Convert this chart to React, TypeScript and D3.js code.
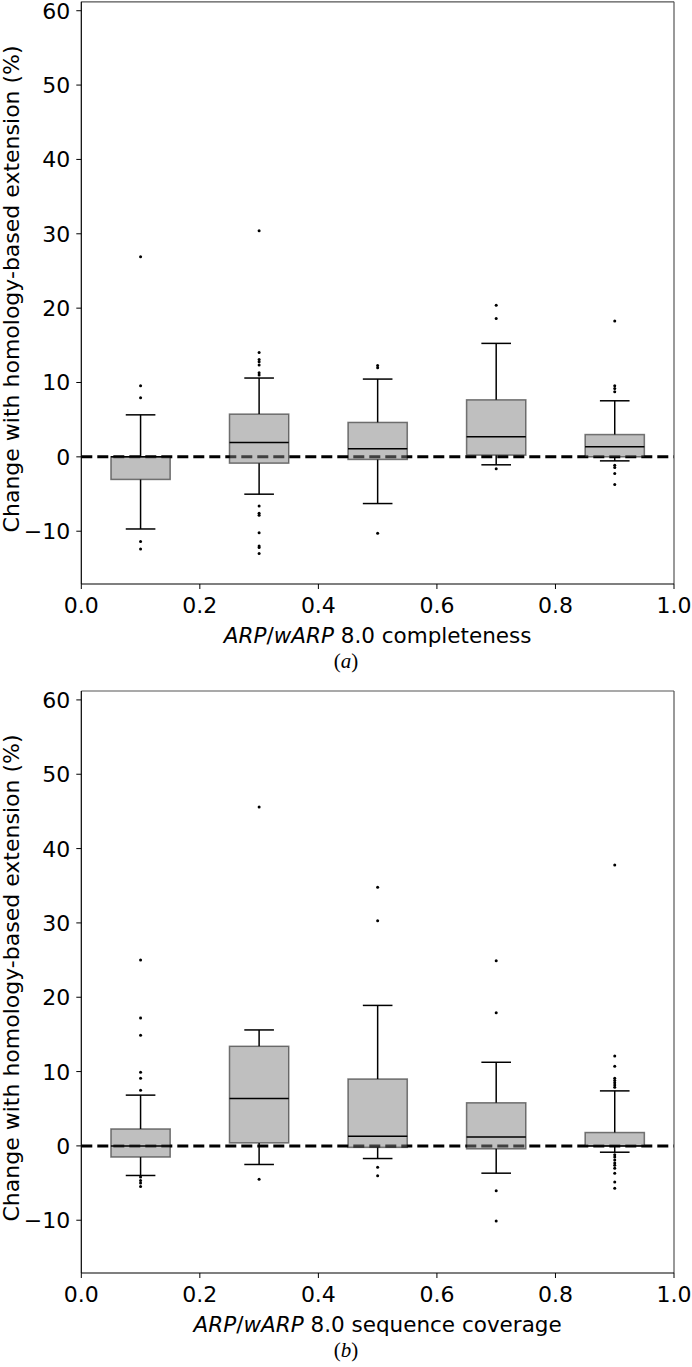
import React from "react";
import * as d3 from "d3";

// ---------- data ----------
const positions = [0.1, 0.3, 0.5, 0.7, 0.9];
const xTicks = [0, 0.2, 0.4, 0.6, 0.8, 1.0];
const yTicks = [-10, 0, 10, 20, 30, 40, 50, 60];

// panel (a): completeness
const aQ1 = [-3.04, -0.85, -0.35, 0.23, 0.0];
const aMedian = [0.0, 1.93, 1.08, 2.7, 1.35];
const aQ3 = [0.0, 5.75, 4.63, 7.67, 3.0];
const aWhiskerLow = [-9.7, -5.02, -6.28, -1.07, -0.54];
const aWhiskerHigh = [5.65, 10.6, 10.46, 15.26, 7.54];
const aOutliers = [
  [26.9, 9.56, 7.94, -11.4, -12.4],
  [30.4, 14.05, 13.1, 12.8, 12.35, 11.3, 11.0, -6.6, -7.6, -7.85, -10.2, -12.0, -12.2, -13.0],
  [12.3, 12.0, -10.27],
  [20.4, 18.6, -1.6],
  [18.26, 9.56, 9.2, 8.75, -1.12, -1.43, -2.24, -3.72],
];

// panel (b): sequence coverage
const bQ1 = [-1.5, 0.4, -0.2, -0.4, 0.0];
const bMedian = [0.0, 6.38, 1.3, 1.2, 0.0];
const bQ3 = [2.28, 13.4, 9.0, 5.8, 1.8];
const bWhiskerLow = [-3.98, -2.5, -1.7, -3.67, -0.85];
const bWhiskerHigh = [6.83, 15.6, 18.9, 11.25, 7.4];
const bOutliers = [
  [25.0, 17.2, 14.9, 9.9, 9.1, 7.5, -4.2, -4.65, -5.0, -5.45],
  [45.6, -4.5],
  [34.8, 30.3, -2.86, -4.03],
  [24.9, 17.9, -6.04, -10.1],
  [37.8, 12.1, 10.7, 9.1, 8.8, 8.5, 8.2, 7.9, -1.2, -1.5, -1.9, -2.3, -2.6, -3.0, -3.67, -4.87, -5.7],
];

const yLabel = "Change with homology-based extension (%)";
const xLabelA = " 8.0 completeness";
const xLabelB = " 8.0 sequence coverage";

const FONT = "DejaVu Sans, sans-serif";

type PanelProps = {
  top: number;
  bottom: number;
  q1: number[];
  med: number[];
  q3: number[];
  wlo: number[];
  whi: number[];
  outl: number[][];
  xLabelRest: string;
  caption: string;
};

const LEFT = 81.3;
const RIGHT = 674;
const BOX_W = 0.1;

function Panel({ top, bottom, q1, med, q3, wlo, whi, outl, xLabelRest, caption }: PanelProps) {
  const x = d3.scaleLinear().domain([0, 1]).range([LEFT, RIGHT]);
  const y = d3.scaleLinear().domain([-17.1, 61.2]).range([bottom, top]);
  const midY = (top + bottom) / 2 - 4;
  return (
    <g>
      {/* zero dashed line */}
      <line
        x1={x(0)}
        x2={x(1)}
        y1={y(0)}
        y2={y(0)}
        stroke="#000"
        strokeWidth={3}
        strokeDasharray="11,5"
      />
      {positions.map((p, i) => {
        const bx0 = x(p - BOX_W / 2);
        const bx1 = x(p + BOX_W / 2);
        const cx0 = x(p - BOX_W / 4);
        const cx1 = x(p + BOX_W / 4);
        const cx = x(p);
        return (
          <g key={i}>
            {/* whiskers */}
            <line x1={cx} x2={cx} y1={y(q3[i])} y2={y(whi[i])} stroke="#000" strokeWidth={1.5} />
            <line x1={cx} x2={cx} y1={y(q1[i])} y2={y(wlo[i])} stroke="#000" strokeWidth={1.5} />
            <line x1={cx0} x2={cx1} y1={y(whi[i])} y2={y(whi[i])} stroke="#000" strokeWidth={1.5} />
            <line x1={cx0} x2={cx1} y1={y(wlo[i])} y2={y(wlo[i])} stroke="#000" strokeWidth={1.5} />
            {/* box */}
            <rect
              x={bx0}
              y={y(q3[i])}
              width={bx1 - bx0}
              height={Math.max(0, y(q1[i]) - y(q3[i]))}
              fill="#808080"
              fillOpacity={0.5}
              stroke="#000"
              strokeOpacity={0.5}
              strokeWidth={1.5}
            />
            {/* median */}
            <line x1={bx0} x2={bx1} y1={y(med[i])} y2={y(med[i])} stroke="#000" strokeWidth={1.5} />
            {/* outliers */}
            {outl[i].map((v, j) => (
              <circle key={j} cx={cx} cy={y(v)} r={1.5} fill="#000" />
            ))}
          </g>
        );
      })}
      {/* frame */}
      <line x1={LEFT} x2={RIGHT} y1={top} y2={top} stroke="#555" strokeWidth={1.2} />
      <line x1={RIGHT} x2={RIGHT} y1={top} y2={bottom} stroke="#555" strokeWidth={1.2} />
      <line x1={LEFT} x2={LEFT} y1={top} y2={bottom} stroke="#000" strokeWidth={1.2} />
      <line x1={LEFT} x2={RIGHT} y1={bottom} y2={bottom} stroke="#000" strokeWidth={1.2} />
      {/* y ticks */}
      {yTicks.map((t) => (
        <g key={t}>
          <line x1={LEFT - 5} x2={LEFT} y1={y(t)} y2={y(t)} stroke="#000" strokeWidth={1} />
          <text
            x={LEFT - 11}
            y={y(t) + 8}
            textAnchor="end"
            fontFamily={FONT}
            fontSize={22}
            fill="#000"
          >
            {t < 0 ? "\u2212" + Math.abs(t) : t}
          </text>
        </g>
      ))}
      {/* x ticks */}
      {xTicks.map((t) => (
        <g key={t}>
          <line x1={x(t)} x2={x(t)} y1={bottom} y2={bottom + 5} stroke="#000" strokeWidth={1} />
          <text
            x={x(t)}
            y={bottom + 28.7}
            textAnchor="middle"
            fontFamily={FONT}
            fontSize={22}
            fill="#000"
          >
            {t.toFixed(1)}
          </text>
        </g>
      ))}
      {/* x label */}
      <text
        x={(LEFT + RIGHT) / 2}
        y={bottom + 58.7}
        textAnchor="middle"
        fontFamily={FONT}
        fontSize={21.5}
        fill="#000"
      >
        <tspan fontStyle="italic">ARP</tspan>
        <tspan>/</tspan>
        <tspan fontStyle="italic">wARP</tspan>
        <tspan>{xLabelRest}</tspan>
      </text>
      {/* y label */}
      <text
        transform={`translate(19,${midY}) rotate(-90)`}
        textAnchor="middle"
        fontFamily={FONT}
        fontSize={22}
        fill="#000"
      >
        {yLabel}
      </text>
      {/* caption */}
      <text
        x={346}
        y={bottom + 84}
        textAnchor="middle"
        fontFamily="Liberation Serif, serif"
        fontSize={21}
        fill="#000"
      >
        (<tspan fontStyle="italic">{caption}</tspan>)
      </text>
    </g>
  );
}

export default function App() {
  return (
    <svg
      width={692}
      height={1367}
      style={{ position: "absolute", left: 0, top: 0, background: "#fff" }}
    >
      <rect x={0} y={0} width={692} height={1367} fill="#fff" />
      <Panel
        top={1.8}
        bottom={584}
        q1={aQ1}
        med={aMedian}
        q3={aQ3}
        wlo={aWhiskerLow}
        whi={aWhiskerHigh}
        outl={aOutliers}
        xLabelRest={xLabelA}
        caption="a"
      />
      <Panel
        top={691}
        bottom={1273}
        q1={bQ1}
        med={bMedian}
        q3={bQ3}
        wlo={bWhiskerLow}
        whi={bWhiskerHigh}
        outl={bOutliers}
        xLabelRest={xLabelB}
        caption="b"
      />
    </svg>
  );
}
